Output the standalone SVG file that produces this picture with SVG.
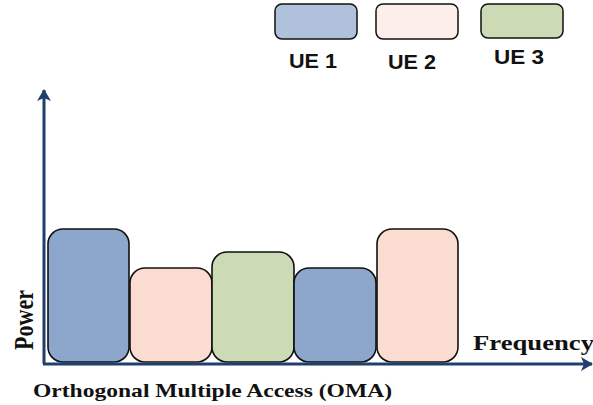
<svg xmlns="http://www.w3.org/2000/svg" width="593" height="405" viewBox="0 0 593 405">
  <defs>
    <marker id="arrow" viewBox="0 0 12 14" refX="11" refY="7" markerWidth="12" markerHeight="14" markerUnits="userSpaceOnUse" orient="auto">
      <path d="M0,0 L12,7 L0,14 L3,7 Z" fill="#1f3f6e"/>
    </marker>
    <style>
      .key { stroke: #111; stroke-width: 1.5; }
      .bar { stroke: #111; stroke-width: 1.6; }
      .blue { fill: #8ca6cc; }
      .pink { fill: #fbdcd0; }
      .green { fill: #ccdab5; }
      .axis { stroke: #1f3f6e; stroke-width: 3; fill: none; }
      .ue { font-family: "Liberation Sans", Arial, sans-serif; font-weight: bold; font-size: 21px; fill: #111; text-anchor: middle; }
      .lbl { font-family: "Liberation Serif", "Times New Roman", serif; font-weight: bold; fill: #111; }
    </style>
  </defs>

  <rect width="593" height="405" fill="#ffffff"/>

  <!-- legend -->
  <g id="legend-ue1">
    <rect class="key" x="275" y="4" width="82" height="35" rx="7" fill="#b0c1dc"/>
    <text class="ue" x="313" y="68" textLength="48" lengthAdjust="spacingAndGlyphs">UE 1</text>
  </g>
  <g id="legend-ue2">
    <rect class="key" x="376" y="4" width="82" height="35" rx="7" fill="#fcefea"/>
    <text class="ue" x="412" y="69" textLength="48" lengthAdjust="spacingAndGlyphs">UE 2</text>
  </g>
  <g id="legend-ue3">
    <rect class="key" x="481" y="4" width="82" height="34" rx="7" fill="#ccdab5"/>
    <text class="ue" x="519" y="64" textLength="50" lengthAdjust="spacingAndGlyphs">UE 3</text>
  </g>

  <!-- allocation bars along frequency -->
  <g id="bar1"><rect class="bar blue" x="48" y="229" width="81" height="133" rx="15"/></g>
  <g id="bar2"><rect class="bar pink" x="130" y="268" width="82" height="94" rx="15"/></g>
  <g id="bar3"><rect class="bar green" x="212" y="252" width="82" height="110" rx="15"/></g>
  <g id="bar4"><rect class="bar blue" x="294" y="268" width="82" height="94" rx="15"/></g>
  <g id="bar5"><rect class="bar pink" x="377" y="229" width="81" height="133" rx="15"/></g>

  <!-- axes -->
  <g id="axes">
    <line class="axis" x1="44" y1="364" x2="44" y2="90" marker-end="url(#arrow)"/>
    <line class="axis" x1="43" y1="364" x2="592" y2="364" marker-end="url(#arrow)"/>
  </g>

  <!-- axis labels -->
  <text class="lbl" font-size="28" transform="translate(33,350) rotate(-90)" textLength="60" lengthAdjust="spacingAndGlyphs">Power</text>
  <text class="lbl" font-size="20" x="473" y="350" textLength="121" lengthAdjust="spacingAndGlyphs">Frequency</text>
  <text class="lbl" font-size="19.5" x="33" y="397" textLength="359" lengthAdjust="spacingAndGlyphs">Orthogonal Multiple Access (OMA)</text>
</svg>
